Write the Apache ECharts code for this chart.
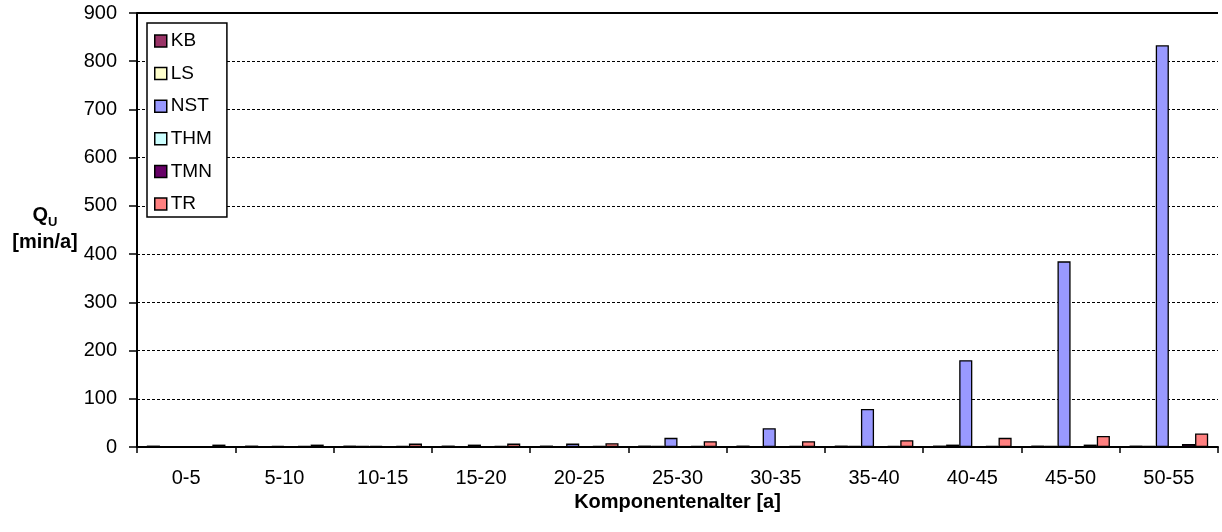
<!DOCTYPE html>
<html>
<head>
<meta charset="utf-8">
<script src="https://cdn.jsdelivr.net/npm/echarts@6/dist/echarts.min.js"></script>
<style>html,body{margin:0;padding:0;background:#fff}#c{width:1222px;height:532px}</style>
</head>
<body>
<div id="c"></div>
<script>
const categories = ['0-5','5-10','10-15','15-20','20-25','25-30','30-35','35-40','40-45','45-50','50-55'];
const seriesNames = ['KB','LS','NST','THM','TMN','TR'];
const KB  = [3, 3, 3, 3, 3, 3, 3, 3, 3, 3, 3];
const LS  = [0, 0, 2, 0, 0, 2, 0, 2, 5, 2, 2];
const NST = [0, 2, 2, 5, 7, 19, 39, 79, 180, 385, 833];
const THM = [0, 0, 0, 0, 0, 0, 0, 0, 0, 0, 0];
const TMN = [0, 2, 2, 2, 2, 2, 2, 2, 2, 5, 6];
const TR  = [5, 5, 7, 7, 8, 12, 12, 14, 19, 23, 28];
const yTicks = {min: 0, max: 900, interval: 100};
const colors = ['#993366', '#FFFFCC', '#9999FF', '#CCFFFF', '#660066', '#FF8080'];
const values = [KB, LS, NST, THM, TMN, TR];

const FONT = 'Liberation Sans, Arial, sans-serif';
const chart = echarts.init(document.getElementById('c'), null, {renderer: 'canvas'});
const series = seriesNames.map((n, i) => {
  const s = {
    name: n, type: 'bar', data: values[i],
    barGap: '0%', barCategoryGap: '20%',
    itemStyle: {color: colors[i], borderColor: '#000', borderWidth: 1.3},
    emphasis: {disabled: true}
  };
  if (n === 'NST') {
    s.markLine = {
      silent: true, symbol: 'none', label: {show: false},
      lineStyle: {color: '#000', type: 'solid', width: 2},
      data: [{yAxis: yTicks.max}]
    };
  }
  return s;
});
chart.setOption({
  animation: false,
  textStyle: {fontFamily: FONT},
  grid: {left: 137, top: 13, right: 4, bottom: 85, containLabel: false},
  legend: {
    orient: 'vertical', left: 147, top: 23,
    padding: [7, 15, 2, 7],
    backgroundColor: '#fff', borderColor: '#000', borderWidth: 1.5,
    itemWidth: 12, itemHeight: 12, itemGap: 10.6,
    icon: 'rect',
    itemStyle: {borderColor: '#000', borderWidth: 1.5},
    textStyle: {fontFamily: FONT, fontSize: 19, color: '#000', lineHeight: 22, padding: [0, 0, 0, -1]},
    data: seriesNames
  },
  xAxis: {
    type: 'category', data: categories,
    axisLine: {lineStyle: {color: '#000', width: 2}},
    axisTick: {show: true, length: 6, lineStyle: {color: '#000', width: 1.5}},
    axisLabel: {color: '#000', fontSize: 20, fontFamily: FONT, margin: 21},
    name: 'Komponentenalter [a]', nameLocation: 'middle', nameGap: 44,
    nameTextStyle: {color: '#000', fontSize: 20, fontWeight: 'bold', fontFamily: FONT}
  },
  yAxis: {
    type: 'value', min: yTicks.min, max: yTicks.max, interval: yTicks.interval,
    axisLine: {show: true, lineStyle: {color: '#000', width: 2}},
    axisTick: {show: true, length: 8, lineStyle: {color: '#000', width: 1.5}},
    axisLabel: {color: '#000', fontSize: 20, fontFamily: FONT, margin: 20},
    splitLine: {show: true, lineStyle: {color: '#000', width: 1, type: [3, 2]}}
  },
  graphic: [{
    type: 'text', x: 45, y: 229,
    style: {
      text: '{q|Q}{s|U}\n{q|[min/a]}',
      align: 'center', verticalAlign: 'middle',
      fill: '#000',
      rich: {
        q: {fontSize: 20, fontWeight: 'bold', fontFamily: FONT, lineHeight: 27, fill: '#000'},
        s: {fontSize: 13, fontWeight: 'bold', fontFamily: FONT, lineHeight: 27, verticalAlign: 'bottom', padding: [7, 0, 0, 0], fill: '#000'}
      }
    }
  }],
  series: series
});
</script>
</body>
</html>
